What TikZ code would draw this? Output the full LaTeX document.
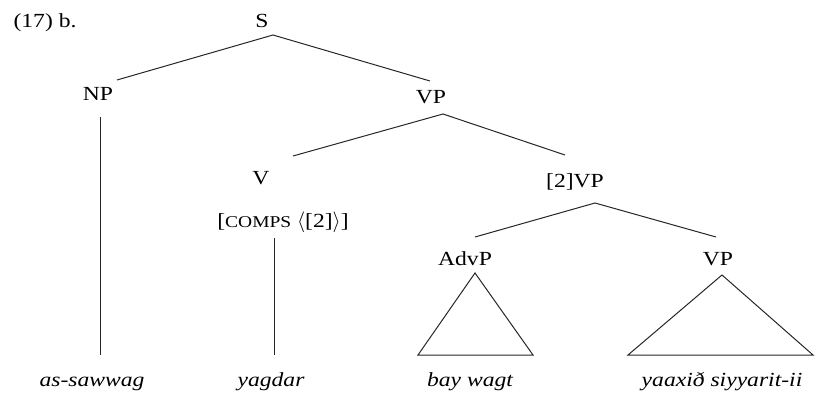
\documentclass[tikz,border=0pt]{standalone}
\usepackage{fontspec}
\setmainfont{Liberation Serif}[FakeStretch=1.18,ItalicFont={Liberation Serif Italic},ItalicFeatures={FakeStretch=1.18}]
\begin{document}
\begin{tikzpicture}[x=1pt,y=-1pt,
  lbl/.style={anchor=base,inner sep=0pt,font=\fontsize{20}{24}\selectfont},
  leaf/.style={anchor=base,inner sep=0pt,font=\fontsize{20}{24}\selectfont\itshape},
  branch/.style={line width=1pt,draw=black!85}]
\useasboundingbox (0,0) rectangle (817,393);
% labels
\node[lbl] (ex) at (45,28) {(17) b.};
\node[lbl] (S) at (262,28) {S};
\node[lbl] (NP) at (98,101) {NP};
\node[lbl] (VPa) at (431,104) {VP};
\node[lbl] (V) at (261,185) {V};
\node[lbl] (comps) at (283,227) {[{\fontsize{16.5}{18}\selectfont COMPS} $\langle$[2]$\rangle$]};
\node[lbl] (VPb) at (575,188) {[2]VP};
\node[lbl] (AdvP) at (465,265) {AdvP};
\node[lbl] (VPc) at (718,265) {VP};
\node[leaf] (l1) at (92,386) {as-sawwag};
\node[leaf] (l2) at (271,386) {yagdar};
\node[leaf] (l3) at (470,386) {bay wagt};
\node[leaf] (l4) at (722,386) {yaaxið siyyarit-ii};
% attachment points
\coordinate (S-b) at (273,35);
\coordinate (NP-t) at (117,80);
\coordinate (VPa-t) at (430,81);
\coordinate (NP-b) at (100,117);
\coordinate (l1-t) at (100,355);
\coordinate (VPa-b) at (443,114);
\coordinate (V-t) at (293,156);
\coordinate (VPb-t) at (565,155);
\coordinate (comps-b) at (274,238);
\coordinate (l2-t) at (274,355);
\coordinate (VPb-b) at (595,203);
\coordinate (AdvP-t) at (475,237);
\coordinate (VPc-t) at (716,237);
\coordinate (AdvP-b) at (475,273);
\coordinate (l3-tl) at (418,355);
\coordinate (l3-tr) at (533,355);
\coordinate (VPc-b) at (722,275);
\coordinate (l4-tl) at (628,355);
\coordinate (l4-tr) at (813,355);
% branches
\draw[branch] (NP-t) -- (S-b) -- (VPa-t);
\draw[branch] (NP-b) -- (l1-t);
\draw[branch] (V-t) -- (VPa-b) -- (VPb-t);
\draw[branch] (comps-b) -- (l2-t);
\draw[branch] (AdvP-t) -- (VPb-b) -- (VPc-t);
\draw[branch,line join=miter] (AdvP-b) -- (l3-tr) -- (l3-tl) -- cycle;
\draw[branch,line join=miter] (VPc-b) -- (l4-tr) -- (l4-tl) -- cycle;
\end{tikzpicture}
\end{document}
